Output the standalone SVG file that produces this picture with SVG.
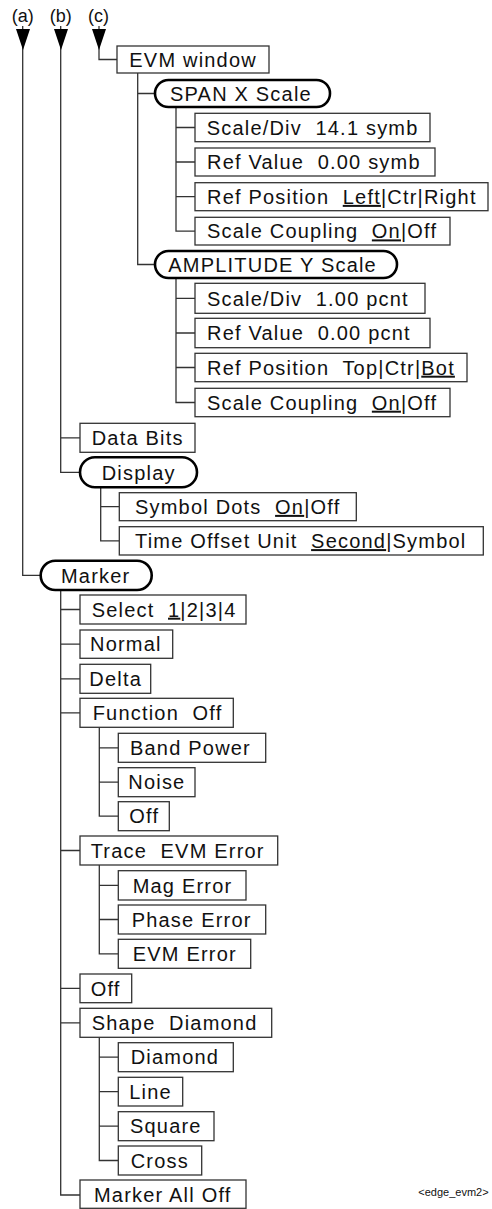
<svg xmlns="http://www.w3.org/2000/svg" width="492" height="1209" viewBox="0 0 492 1209">
<style>
.bx{fill:#fff;stroke:#333;stroke-width:1.3}
.pl{fill:#fff;stroke:#000;stroke-width:2.6}
.t{font-family:"Liberation Sans",Arial,sans-serif;font-size:20px;letter-spacing:1.2px;fill:#111}
.lb{font-family:"Liberation Sans",Arial,sans-serif;font-size:18px;fill:#111}
.cn{fill:none;stroke:#333;stroke-width:1.3}
.u{text-decoration:underline}
.ed{font-family:"Liberation Sans",Arial,sans-serif;font-size:11px;fill:#111}
</style>
<g id="connectors">
<path class="cn" d="M22.7 26V575.3H40.7"/>
<path class="cn" d="M60.7 26V472.3H80M60.7 437.8H80"/>
<path class="cn" d="M99 26V59.5H117"/>
<path class="cn" d="M137.7 73V264.5H155M137.7 93.5H155"/>
<path class="cn" d="M176 107V231.2H195M176 127.5H195M176 162H195M176 196.7H195"/>
<path class="cn" d="M176 278V402.5H195M176 298.3H195M176 333H195M176 367.5H195"/>
<path class="cn" d="M100.7 487.3V540.9H119.3M100.7 506.7H119.3"/>
<path class="cn" d="M60.7 590V1195H80M60.7 609.5H80M60.7 644.2H80M60.7 678.8H80M60.7 712.8H80M60.7 850.5H80M60.7 988.3H80M60.7 1022.8H80"/>
<path class="cn" d="M99.3 727.3V816.2H118.3M99.3 747.8H118.3M99.3 782.2H118.3"/>
<path class="cn" d="M99.3 865V953.8H118.3M99.3 885.3H118.3M99.3 919.5H118.3"/>
<path class="cn" d="M99.3 1037.3V1160.5H118.3M99.3 1057.2H118.3M99.3 1091.7H118.3M99.3 1126.2H118.3"/>
<polygon points="16,29 30,29 23,50" fill="#000"/>
<polygon points="54,29 68,29 61,50" fill="#000"/>
<polygon points="92,29 106,29 99,50" fill="#000"/>
</g>
<g id="label-a"><text class="lb" x="22.7" y="21.5" text-anchor="middle">(a)</text></g>
<g id="label-b"><text class="lb" x="60.7" y="21.5" text-anchor="middle">(b)</text></g>
<g id="label-c"><text class="lb" x="98.5" y="21.5" text-anchor="middle">(c)</text></g>

<g id="evm-window"><rect class="bx" x="117" y="46" width="152" height="27"/><text class="t" x="129.3" y="66.7">EVM window</text></g>
<g id="span-x-scale"><rect class="pl" x="155" y="80" width="175" height="27" rx="13.5"/><text class="t" x="170" y="100.7">SPAN X Scale</text></g>
<g id="span-scalediv"><rect class="bx" x="195" y="113.3" width="235" height="28.4"/><text class="t" x="206.7" y="134.7" xml:space="preserve">Scale/Div  14.1 symb</text></g>
<g id="span-refvalue"><rect class="bx" x="195" y="148" width="240" height="28"/><text class="t" x="207" y="169.2" xml:space="preserve">Ref Value  0.00 symb</text></g>
<g id="span-refpos"><rect class="bx" x="195" y="182.7" width="293" height="28"/><text class="t" x="207" y="203.9" xml:space="preserve">Ref Position  <tspan class="u">Left</tspan>|Ctr|Right</text></g>
<g id="span-coupling"><rect class="bx" x="195" y="217.3" width="255" height="27.7"/><text class="t" x="207" y="238.4" xml:space="preserve">Scale Coupling  <tspan class="u">On</tspan>|Off</text></g>

<g id="amp-y-scale"><rect class="pl" x="155" y="251" width="242" height="27" rx="13.5"/><text class="t" x="168.3" y="271.7">AMPLITUDE Y Scale</text></g>
<g id="amp-scalediv"><rect class="bx" x="195" y="283.3" width="230" height="30"/><text class="t" x="207" y="305.5" xml:space="preserve">Scale/Div  1.00 pcnt</text></g>
<g id="amp-refvalue"><rect class="bx" x="195" y="318.3" width="235" height="29.4"/><text class="t" x="207" y="340.2" xml:space="preserve">Ref Value  0.00 pcnt</text></g>
<g id="amp-refpos"><rect class="bx" x="195" y="353.3" width="272" height="28.4"/><text class="t" x="207" y="374.7" xml:space="preserve">Ref Position  Top|Ctr|<tspan class="u">Bot</tspan></text></g>
<g id="amp-coupling"><rect class="bx" x="195" y="388.3" width="255" height="28.4"/><text class="t" x="207" y="409.7" xml:space="preserve">Scale Coupling  <tspan class="u">On</tspan>|Off</text></g>

<g id="data-bits"><rect class="bx" x="80" y="423.3" width="115" height="29"/><text class="t" x="91.7" y="445">Data Bits</text></g>
<g id="display"><rect class="pl" x="80" y="457.3" width="117" height="30" rx="15"/><text class="t" x="101.7" y="479.5">Display</text></g>
<g id="symbol-dots"><rect class="bx" x="119.3" y="492.7" width="237" height="28"/><text class="t" x="135" y="513.9" xml:space="preserve">Symbol Dots  <tspan class="u">On</tspan>|Off</text></g>
<g id="time-offset"><rect class="bx" x="119.3" y="526.7" width="364" height="28.3"/><text class="t" x="135" y="548.1" xml:space="preserve">Time Offset Unit  <tspan class="u">Second</tspan>|Symbol</text></g>

<g id="marker"><rect class="pl" x="40.7" y="560.7" width="111" height="29.3" rx="14.6"/><text class="t" x="61" y="582.6">Marker</text></g>
<g id="select"><rect class="bx" x="80" y="595" width="166" height="29"/><text class="t" x="91.7" y="616.7" xml:space="preserve">Select  <tspan class="u">1</tspan>|2|3|4</text></g>
<g id="normal"><rect class="bx" x="80" y="630" width="92.7" height="28.3"/><text class="t" x="90" y="651.4">Normal</text></g>
<g id="delta"><rect class="bx" x="80" y="664.3" width="70.7" height="29"/><text class="t" x="89.3" y="686">Delta</text></g>
<g id="function"><rect class="bx" x="80" y="698.3" width="153.3" height="29"/><text class="t" x="92.7" y="720" xml:space="preserve">Function  Off</text></g>
<g id="band-power"><rect class="bx" x="118.3" y="733.3" width="147.4" height="29"/><text class="t" x="130" y="755">Band Power</text></g>
<g id="noise"><rect class="bx" x="118.3" y="767.7" width="76.7" height="29"/><text class="t" x="128.3" y="789.4">Noise</text></g>
<g id="func-off"><rect class="bx" x="118.3" y="801.7" width="51" height="29"/><text class="t" x="129.3" y="823.4">Off</text></g>
<g id="trace"><rect class="bx" x="80" y="836" width="197.7" height="29"/><text class="t" x="90.7" y="857.7" xml:space="preserve">Trace  EVM Error</text></g>
<g id="mag-error"><rect class="bx" x="118.3" y="870.7" width="127.7" height="29.3"/><text class="t" x="132.7" y="892.5">Mag Error</text></g>
<g id="phase-error"><rect class="bx" x="118.3" y="905" width="147.4" height="29"/><text class="t" x="131.7" y="926.7">Phase Error</text></g>
<g id="evm-error"><rect class="bx" x="118.3" y="939.3" width="132.4" height="29"/><text class="t" x="132.7" y="961">EVM Error</text></g>
<g id="marker-off"><rect class="bx" x="80" y="974" width="51.7" height="28.7"/><text class="t" x="90.7" y="995.6">Off</text></g>
<g id="shape"><rect class="bx" x="80" y="1008.3" width="191.7" height="29"/><text class="t" x="91.7" y="1030" xml:space="preserve">Shape  Diamond</text></g>
<g id="diamond"><rect class="bx" x="118.3" y="1042.7" width="115" height="29"/><text class="t" x="130.7" y="1064.4">Diamond</text></g>
<g id="line"><rect class="bx" x="118.3" y="1077.3" width="64.4" height="28.7"/><text class="t" x="129.3" y="1098.9">Line</text></g>
<g id="square"><rect class="bx" x="118.3" y="1111.7" width="95.7" height="29"/><text class="t" x="130" y="1133.4">Square</text></g>
<g id="cross"><rect class="bx" x="118.3" y="1146" width="83.4" height="29"/><text class="t" x="130.7" y="1167.7">Cross</text></g>
<g id="marker-all-off"><rect class="bx" x="80" y="1180" width="166" height="28.3"/><text class="t" x="94" y="1201.9">Marker All Off</text></g>
<g id="caption"><text class="ed" x="418.3" y="1196">&lt;edge_evm2&gt;</text></g>
</svg>
